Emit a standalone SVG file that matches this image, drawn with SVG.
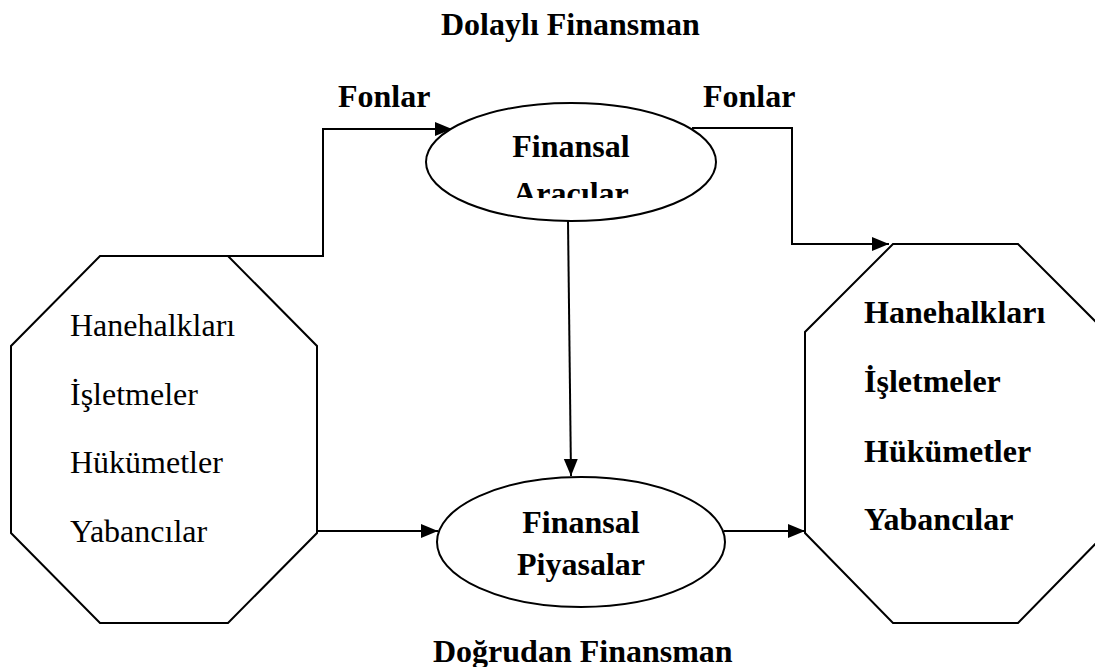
<svg xmlns="http://www.w3.org/2000/svg" width="1095" height="667" viewBox="0 0 1095 667">
  <style>
    .shape { fill: #ffffff; stroke: #000000; stroke-width: 2; }
    .conn { fill: none; stroke: #000000; stroke-width: 2; }
    .reg { font-family: "Liberation Serif", "Times New Roman", serif; font-size: 32px; fill: #000000; }
    .bold { font-family: "Liberation Serif", "Times New Roman", serif; font-size: 32px; font-weight: bold; fill: #000000; }
    .mid { text-anchor: middle; }
  </style>
  <defs>
    <marker id="arrow" markerUnits="userSpaceOnUse" markerWidth="18" markerHeight="15" refX="17" refY="7" orient="auto">
      <path d="M0,0 L17,7 L0,14 z" fill="#000000"/>
    </marker>
    <clipPath id="clipAracilar">
      <rect x="400" y="100" width="340" height="98"/>
    </clipPath>
  </defs>
  <rect width="1095" height="667" fill="#ffffff"/>

  <g id="title-top">
    <text class="bold" x="441" y="35">Dolaylı Finansman</text>
  </g>
  <g id="title-bottom">
    <text class="bold" x="433" y="662">Doğrudan Finansman</text>
  </g>

  <g id="connectors">
    <polyline class="conn" points="194,256 323,256 323,129 452,129" marker-end="url(#arrow)"/>
    <polyline class="conn" points="692,128 792,128 792,244 889,244" marker-end="url(#arrow)"/>
    <line class="conn" x1="568" y1="221" x2="571" y2="476" marker-end="url(#arrow)"/>
    <line class="conn" x1="317" y1="531" x2="438" y2="531" marker-end="url(#arrow)"/>
    <line class="conn" x1="724" y1="531" x2="805" y2="531" marker-end="url(#arrow)"/>
    <text class="bold" x="338" y="107">Fonlar</text>
    <text class="bold" x="703" y="107">Fonlar</text>
  </g>

  <g id="left-sectors">
    <polygon class="shape" points="100,256 228,256 317,346 317,533 228,623 100,623 11,533 11,346"/>
    <text class="reg" x="70" y="336">Hanehalkları</text>
    <text class="reg" x="70" y="405">İşletmeler</text>
    <text class="reg" x="70" y="473">Hükümetler</text>
    <text class="reg" x="70" y="542">Yabancılar</text>
  </g>

  <g id="financial-intermediaries">
    <ellipse class="shape" cx="571" cy="162" rx="145" ry="59"/>
    <text class="bold mid" x="571" y="157">Finansal</text>
    <text class="bold mid" x="571" y="204" clip-path="url(#clipAracilar)">Aracılar</text>
  </g>

  <g id="financial-markets">
    <ellipse class="shape" cx="581" cy="542" rx="144" ry="65"/>
    <text class="bold mid" x="581" y="533">Finansal</text>
    <text class="bold mid" x="581" y="575">Piyasalar</text>
  </g>

  <g id="right-sectors">
    <polygon class="shape" points="893,244 1018,244 1106,332 1106,533 1018,623 893,623 805,533 805,332"/>
    <text class="bold" x="864" y="323">Hanehalkları</text>
    <text class="bold" x="864" y="392">İşletmeler</text>
    <text class="bold" x="864" y="462">Hükümetler</text>
    <text class="bold" x="864" y="530">Yabancılar</text>
  </g>
</svg>
